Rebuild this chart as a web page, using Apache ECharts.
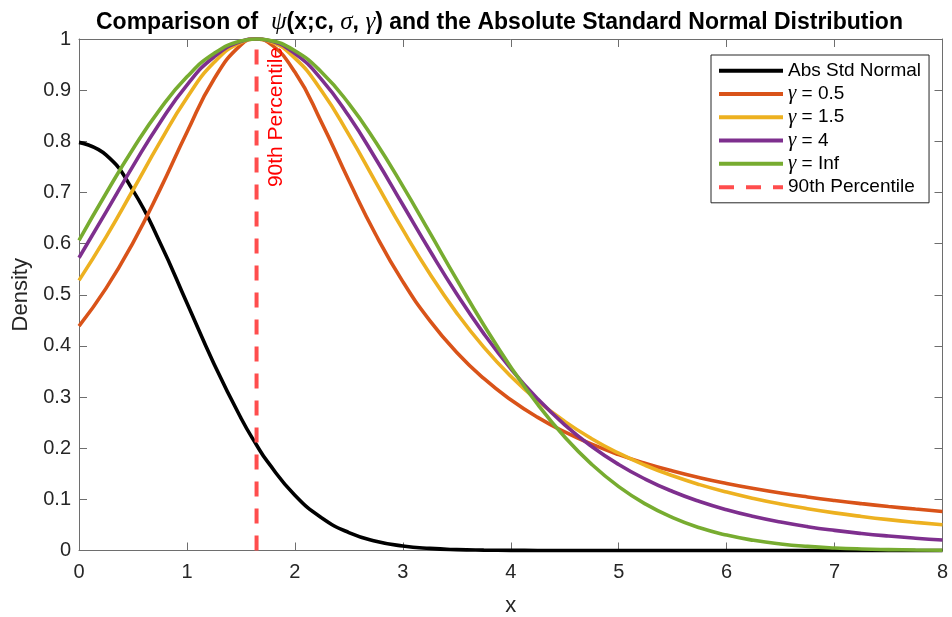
<!DOCTYPE html>
<html>
<head>
<meta charset="utf-8">
<script src="https://cdn.jsdelivr.net/npm/echarts@6/dist/echarts.min.js"></script>
<style>
  html, body { margin: 0; padding: 0; background: #ffffff; }
  #chart { width: 952px; height: 617px; }
</style>
</head>
<body>
<div id="chart"></div>
<script>
// Sample positions shared by every curve (x), including the 90th percentile point.
const xs = [0, 0.25, 0.5, 0.75, 1, 1.25, 1.5, 1.645, 1.75, 2, 2.25, 2.5, 2.75, 3, 3.25, 3.5, 3.75,
  4, 4.25, 4.5, 4.75, 5, 5.25, 5.5, 5.75, 6, 6.25, 6.5, 6.75, 7, 7.25, 7.5, 7.75, 8];

// Density of |Z|, Z ~ N(0,1)
const absNormal = [0.7979, 0.7733, 0.7041, 0.6023, 0.4839, 0.3653, 0.2591, 0.2063, 0.1726, 0.1080,
  0.0635, 0.0351, 0.0182, 0.0089, 0.0041, 0.0017, 0.0007, 0.0003, 0.0001, 0, 0, 0, 0, 0, 0, 0, 0,
  0, 0, 0, 0, 0, 0, 0];

// psi(x; c, sigma, gamma) for several gamma values
const psiG05 = [0.4387, 0.5125, 0.6016, 0.7055, 0.8178, 0.9214, 0.9885, 1, 0.9939, 0.9354, 0.8356,
  0.7233, 0.6173, 0.5257, 0.4495, 0.3872, 0.3364, 0.2947, 0.2603, 0.2318, 0.2078, 0.1875, 0.1702,
  0.1553, 0.1423, 0.1311, 0.1212, 0.1124, 0.1047, 0.0978, 0.0916, 0.0860, 0.0810, 0.0764];
const psiG15 = [0.5281, 0.6128, 0.7048, 0.7984, 0.8852, 0.9539, 0.9936, 1, 0.9966, 0.9625, 0.8977,
  0.8130, 0.7199, 0.6272, 0.5410, 0.4642, 0.3975, 0.3407, 0.2927, 0.2524, 0.2186, 0.1902, 0.1662,
  0.1460, 0.1288, 0.1142, 0.1017, 0.0909, 0.0817, 0.0736, 0.0666, 0.0604, 0.0550, 0.0502];
const psiG4 = [0.5724, 0.6614, 0.7514, 0.8365, 0.9100, 0.9648, 0.9952, 1, 0.9975, 0.9715, 0.9202,
  0.8493, 0.7655, 0.6759, 0.5864, 0.5015, 0.4241, 0.3555, 0.2962, 0.2457, 0.2034, 0.1682, 0.1392,
  0.1153, 0.0957, 0.0796, 0.0664, 0.0556, 0.0466, 0.0393, 0.0332, 0.0282, 0.0240, 0.0205];
const psiGInf = [0.6065, 0.6980, 0.7849, 0.8624, 0.9260, 0.9716, 0.9961, 1, 0.9980, 0.9770, 0.9346,
  0.8737, 0.7980, 0.7123, 0.6213, 0.5295, 0.4410, 0.3589, 0.2854, 0.2218, 0.1684, 0.1249, 0.0906,
  0.0642, 0.0444, 0.0301, 0.0199, 0.0128, 0.0081, 0.0050, 0.0030, 0.0018, 0.0010, 0.0006];

// 90th percentile of |Z| and the vertical extent of its marker line
const p90 = 1.645;
const p90Span = [0, 1];

const seriesNames = ['Abs Std Normal', 'γ = 0.5', 'γ = 1.5', 'γ = 4', 'γ = Inf', '90th Percentile'];
const seriesColors = ['#000000', '#D95319', '#EDB120', '#7E2F8E', '#77AC30', '#FF4D4D'];
const xTicks = ['0', '1', '2', '3', '4', '5', '6', '7', '8'];

const SANS = 'Liberation Sans, Arial, Helvetica, sans-serif';
const SERIF = 'Liberation Serif, Times New Roman, serif';
const AXIS = '#6e6e6e';
const TEXT = '#262626';

const zip = (ys) => xs.map((x, i) => [x, ys[i]]);

function curve(name, ys, idx) {
  return {
    name: name,
    type: 'line',
    data: zip(ys),
    symbol: 'none',
    smooth: 0.5,
    clip: false,
    lineStyle: { color: seriesColors[idx], width: 3.6 },
    itemStyle: { color: seriesColors[idx] },
    z: 2 + idx
  };
}

const chart = echarts.init(document.getElementById('chart'), null, { renderer: 'canvas' });

const option = {
  animation: false,
  backgroundColor: '#ffffff',
  title: {
    text: 'Comparison of  {m|ψ}(x;c, {m|σ}, {m|γ}) and the Absolute Standard Normal Distribution',
    left: 96,
    top: 0,
    padding: [10, 0, 0, 0],
    textStyle: {
      fontFamily: SANS,
      fontWeight: 'bold',
      fontSize: 23,
      color: '#000000',
      rich: {
        m: { fontFamily: SERIF, fontStyle: 'italic', fontWeight: 'normal', fontSize: 25, color: '#000000' }
      }
    }
  },
  legend: {
    orient: 'vertical',
    left: 711,
    top: 55,
    data: seriesNames,
    itemWidth: 64,
    itemHeight: 14,
    itemGap: 0,
    padding: [4, 8, 4, 6],
    backgroundColor: '#ffffff',
    borderColor: '#262626',
    borderWidth: 1,
    borderRadius: 0,
    selectedMode: false,
    itemStyle: { opacity: 0 },
    lineStyle: { width: 4 },
    formatter: (name) => name.replace('γ', '{g|γ}'),
    textStyle: {
      fontFamily: SANS,
      fontSize: 19,
      color: '#000000',
      lineHeight: 23.3,
      rich: {
        g: { fontFamily: SERIF, fontStyle: 'italic', fontSize: 21, color: '#000000', lineHeight: 23.3 }
      }
    }
  },
  grid: { left: 79, right: 9.5, top: 39, bottom: 66.5, containLabel: false, outerBoundsMode: 'none' },
  xAxis: [
    {
      type: 'value', min: 0, max: 8, interval: 1,
      name: 'x', nameLocation: 'middle', nameGap: 44,
      nameTextStyle: { fontFamily: SANS, fontSize: 22, color: TEXT },
      axisLine: { show: true, onZero: false, lineStyle: { color: AXIS, width: 1 } },
      axisTick: { show: true, inside: true, length: 8, lineStyle: { color: AXIS } },
      axisLabel: {
        fontFamily: SANS, fontSize: 20, color: TEXT, margin: 12,
        formatter: (v) => xTicks[Math.round(v)]
      },
      splitLine: { show: false }
    },
    {
      type: 'value', min: 0, max: 8, interval: 1, position: 'top',
      axisLine: { show: true, onZero: false, lineStyle: { color: AXIS, width: 1 } },
      axisTick: { show: true, inside: true, length: 8, lineStyle: { color: AXIS } },
      axisLabel: { show: false },
      splitLine: { show: false }
    }
  ],
  yAxis: [
    {
      type: 'value', min: 0, max: 1, interval: 0.1,
      name: 'Density', nameLocation: 'middle', nameGap: 46, nameRotate: 90,
      nameTextStyle: { fontFamily: SANS, fontSize: 22, color: TEXT },
      axisLine: { show: true, onZero: false, lineStyle: { color: AXIS, width: 1 } },
      axisTick: { show: true, inside: true, length: 8, lineStyle: { color: AXIS } },
      axisLabel: {
        fontFamily: SANS, fontSize: 20, color: TEXT, margin: 8,
        formatter: (v) => String(Math.round(v * 10) / 10)
      },
      splitLine: { show: false }
    },
    {
      type: 'value', min: 0, max: 1, interval: 0.1, position: 'right',
      axisLine: { show: true, onZero: false, lineStyle: { color: AXIS, width: 1 } },
      axisTick: { show: true, inside: true, length: 8, lineStyle: { color: AXIS } },
      axisLabel: { show: false },
      splitLine: { show: false }
    }
  ],
  series: [
    curve(seriesNames[0], absNormal, 0),
    curve(seriesNames[1], psiG05, 1),
    curve(seriesNames[2], psiG15, 2),
    curve(seriesNames[3], psiG4, 3),
    curve(seriesNames[4], psiGInf, 4),
    {
      name: seriesNames[5],
      type: 'line',
      data: p90Span.map((y) => [p90, y]),
      symbol: 'none',
      lineStyle: { color: seriesColors[5], width: 4, type: [15, 12] },
      itemStyle: { color: seriesColors[5] },
      z: 10,
      markPoint: {
        symbol: 'circle',
        symbolSize: 1,
        itemStyle: { color: 'rgba(0,0,0,0)' },
        label: {
          show: true,
          formatter: '90th Percentile',
          position: 'inside',
          rotate: 90,
          align: 'right',
          verticalAlign: 'top',
          offset: [-8, 9],
          fontFamily: SANS,
          fontSize: 21,
          color: '#FF0000'
        },
        data: [{ coord: [p90, p90Span[1]] }]
      }
    }
  ]
};

chart.setOption(option);
</script>
</body>
</html>
